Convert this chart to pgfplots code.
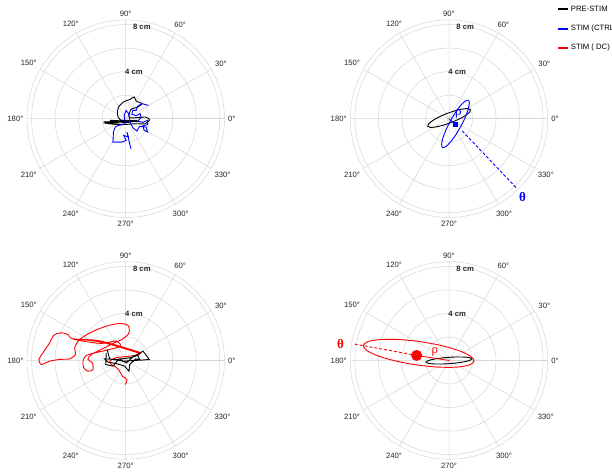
\documentclass[border=0pt]{standalone}
\usepackage{fontspec}
\setmainfont{Liberation Sans}
\newfontfamily\seriffont{Liberation Serif}
\usepackage{pgfplots}
\pgfplotsset{compat=1.18}
\usepgfplotslibrary{polar}

\tikzset{rlab/.style={font=\bfseries\fontsize{7.7}{9}\selectfont, text=black!85}}
\pgfplotsset{
 mypolar/.style={
   width=197.6pt, height=197.6pt, scale only axis,
   anchor=center,
   xmin=0,xmax=360, ymin=0,ymax=8.4,
   xtick={0,30,...,330},
   xticklabels={0°,30°,60°,90°,120°,150°,180°,210°,240°,270°,300°,330°},
   ytick={2,4,6,8},
   yticklabels={{},{},{},{}},
   grid=major,
   major grid style={black!16, line width=0.5pt},
   axis line style={black!16, line width=0.5pt},
   major tick length=0pt,
   ticklabel style={font=\fontsize{7.7}{9}\selectfont, text=black!85},
   clip=false,
 },
}

\begin{document}
\begin{tikzpicture}
\useasboundingbox (0,0) rectangle (612pt,473pt);

% ---------------- top left ----------------
\begin{polaraxis}[mypolar, at={(125.7pt,354.3pt)}]
\node[rlab] at (axis cs:80,4) {4 cm};
\node[rlab] at (axis cs:80,7.9) {8 cm};
\addplot[black, line width=0.9pt, data cs=cart, smooth, tension=0.4] coordinates {
(-1.89,-0.28) (-0.61,-0.23) (-1.60,-0.37) (0.24,-0.31) (-1.32,-0.14) (1.23,-0.26)
(-0.47,-0.09) (-0.70,0.43) (-0.61,0.99) (-0.18,1.42) (0.38,1.65) (0.72,1.84)
(0.89,1.50) (1.38,1.28) (1.01,0.99) (0.44,0.77) (0.33,0.09) (1.66,0.14)
(2.03,-0.09) (1.66,-0.43) (0.81,-0.43) (-0.47,-0.51) (-1.74,-0.37) (-0.33,-0.20) (0.95,-0.14)
};
\addplot[blue, line width=0.9pt, data cs=cart] coordinates {
(1.94,1.13) (1.38,1.28) (1.01,1.05) (0.89,0.71) (0.61,0.71) (0.52,0.37)
(0.89,0.26) (1.23,0.43) (1.32,0.09) (1.01,-0.20) (1.46,-0.31) (1.86,-0.14)
(1.86,-0.51) (1.46,-0.60) (1.57,-0.99) (1.86,-1.13) (1.74,-0.71) (1.18,-0.65)
(0.95,-1.05) (0.61,-0.77) (0.38,-0.28) (0.24,0.43) (0.04,0.71) (-0.13,0.28)
(-0.04,-0.43) (-0.61,-0.57) (-0.89,-0.71) (-1.04,-1.13) (-1.09,-1.99) (-0.33,-1.99)
(0.04,-1.84) (-0.18,-1.42) (0.24,-1.56) (0.10,-1.13) (0.44,-2.55)
};
\end{polaraxis}

% ---------------- top right ----------------
\begin{polaraxis}[mypolar, at={(449pt,354.3pt)}]
\node[rlab] at (axis cs:80,4) {4 cm};
\node[rlab] at (axis cs:80,7.9) {8 cm};
\addplot[black, line width=0.9pt, data cs=cart, smooth cycle] coordinates {
(1.831,0.758) (1.636,0.855) (1.191,0.830) (0.568,0.689) (-0.140,0.452) (-0.826,0.155)
(-1.383,-0.156) (-1.730,-0.435) (-1.811,-0.638) (-1.616,-0.735) (-1.171,-0.710) (-0.548,-0.569)
(0.160,-0.332) (0.846,-0.035) (1.403,0.276) (1.750,0.555)
};
\addplot[blue, line width=0.9pt, data cs=cart, smooth cycle] coordinates {
(1.647,1.571) (1.396,1.510) (1.016,1.152) (0.564,0.552) (0.111,-0.200) (-0.276,-0.988)
(-0.536,-1.692) (-0.632,-2.206) (-0.547,-2.451) (-0.296,-2.390) (0.084,-2.032) (0.536,-1.432)
(0.989,-0.680) (1.376,0.108) (1.636,0.812) (1.732,1.326)
};
\addplot[blue, line width=0.8pt, data cs=cart] coordinates {(0,0) (0.51,-0.47)};
\addplot[blue, line width=0.9pt, data cs=cart, dash pattern=on 3pt off 2pt] coordinates {(1.12,-1.04) (5.80,-5.96)};
\addplot[blue, only marks, mark=square*, mark size=2pt, data cs=cart] coordinates {(0.51,-0.47)};
\node[blue, font=\seriffont\fontsize{13}{13}\selectfont] at (axis cs:29,0.92) {ρ};
\node[blue, font=\seriffont\bfseries\fontsize{13}{13}\selectfont] at (axis cs:313.2,9.12) {θ};
\end{polaraxis}

% ---------------- bottom left ----------------
\begin{polaraxis}[mypolar, at={(125.7pt,112.5pt)}]
\node[rlab] at (axis cs:80,4) {4 cm};
\node[rlab] at (axis cs:80,7.9) {8 cm};
\addplot[red, line width=0.9pt, data cs=cart, smooth, tension=0.5] coordinates {
(-0.03,-2.04) (0.11,-1.62) (-0.28,-1.33) (-0.57,-0.82) (-0.94,-0.48) (-1.22,-0.34)
(-1.36,-0.06) (-0.85,0.23) (0.34,0.37) (1.19,0.51) (0.85,0.71) (-2.07,1.56)
(-4.48,1.84) (-3.63,1.65) (-2.07,1.45) (-0.79,1.65) (-0.45,1.22) (-1.36,0.94)
(-2.35,0.71) (-3.35,0.43) (-3.63,-0.06) (-3.57,-0.62) (-3.21,-0.91) (-2.78,-0.77)
(-2.84,-0.20) (-3.21,0.09) (-2.92,0.51) (-2.07,0.94) (-1.08,1.45) (-0.23,1.84)
(0.28,2.35) (0.20,2.98) (-0.51,3.15) (-1.65,2.92) (-2.92,2.41) (-3.91,1.79)
(-4.34,1.08) (-4.26,0.51) (-4.77,0.14) (-5.62,0.09) (-6.47,-0.06) (-7.18,-0.34)
(-7.38,0.09) (-7.04,0.65) (-6.47,1.50) (-6.13,2.13) (-5.56,2.35) (-4.91,2.21)
(-4.48,1.84) (-2.21,1.67) (0.91,0.79) (1.33,0.60)
};
\addplot[black, line width=0.9pt, data cs=cart] coordinates {
(-1.65,0.65) (-1.70,-0.34) (-1.08,-0.48) (-0.57,0.14) (0.06,-0.20) (0.62,0.31)
(1.48,0.79) (1.76,0.43) (1.99,0.09) (1.33,0.03) (0.85,0.14) (0.34,-0.34)
(0.28,-0.91) (-0.09,-0.48) (-0.79,-0.26) (-1.50,-0.14) (-1.79,0.14) (-0.79,0.09)
(0.34,0.23) (1.05,0.43) (1.19,0.03) (-0.23,-0.06) (-1.36,0.14) (-1.59,0.94)
};
\end{polaraxis}

% ---------------- bottom right ----------------
\begin{polaraxis}[mypolar, at={(449pt,112.5pt)}]
\node[rlab] at (axis cs:80,4) {4 cm};
\node[rlab] at (axis cs:80,7.9) {8 cm};
\addplot[black, line width=0.9pt, data cs=cart, smooth cycle] coordinates {
(1.944,0.139) (1.789,0.231) (1.361,0.288) (0.727,0.302) (-0.019,0.269) (-0.762,0.195)
(-1.388,0.092) (-1.803,-0.025) (-1.944,-0.139) (-1.789,-0.231) (-1.361,-0.288) (-0.727,-0.302)
(0.019,-0.269) (0.762,-0.195) (1.388,-0.092) (1.803,0.025)
};
\addplot[red, line width=0.9pt, data cs=cart, smooth cycle] coordinates {
(2.132,-0.061) (1.828,0.369) (0.851,0.836) (-0.645,1.268) (-2.439,1.600) (-4.255,1.782)
(-5.811,1.784) (-6.880,1.609) (-7.292,1.281) (-6.988,0.851) (-6.011,0.384) (-4.515,-0.048)
(-2.721,-0.380) (-0.905,-0.562) (0.651,-0.564) (1.720,-0.389)
};
\addplot[red, line width=0.8pt, data cs=cart] coordinates {(0,0) (-2.75,0.43)};
\addplot[red, line width=0.9pt, data cs=cart, dash pattern=on 3pt off 2pt] coordinates {(-2.75,0.43) (-8.14,1.42)};
\addplot[red, only marks, mark=*, mark size=5.3pt, data cs=cart] coordinates {(-2.75,0.43)};
\node[red, font=\seriffont\fontsize{13}{13}\selectfont] at (axis cs:149.2,1.39) {ρ};
\node[red, font=\seriffont\bfseries\fontsize{13}{13}\selectfont] at (axis cs:171.2,9.33) {θ};
\end{polaraxis}

% ---------------- legend ----------------
\fill[black] (557.7pt,462.8pt) rectangle (567.7pt,464.6pt);
\fill[blue]  (557.7pt,443.4pt) rectangle (567.7pt,445.2pt);
\fill[red]   (557.7pt,424.4pt) rectangle (567.7pt,426.2pt);
\begin{scope}[every node/.style={anchor=west, inner sep=0pt, font=\fontsize{7.7}{9}\selectfont}]
\node at (570.7pt,463.7pt) {PRE-STIM};
\node at (570.7pt,444.3pt) {STIM (CTRL)};
\node at (570.7pt,425.3pt) {STIM ( DC)};
\end{scope}
\end{tikzpicture}
\end{document}
